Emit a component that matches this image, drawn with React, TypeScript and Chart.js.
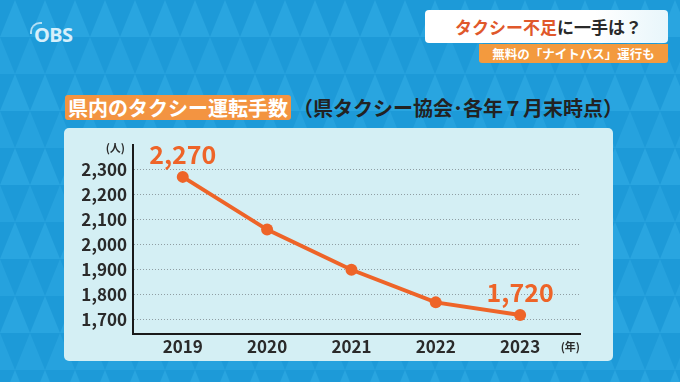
import React, { useEffect, useRef } from "react";
import { Chart, registerables } from "chart.js";

Chart.register(...registerables);

const years: number[] = [2019, 2020, 2021, 2022, 2023];
const drivers: number[] = [2270, 2060, 1900, 1770, 1720];
const yTicks: number[] = [1700, 1800, 1900, 2000, 2100, 2200, 2300];
const labeledYears: number[] = [2019, 2023];

const FONT = '"Noto Sans CJK JP", "Noto Sans", sans-serif';
const ORANGE = "#EE6428";
const DARK = "#2a2a2a";

const bgSvg = encodeURIComponent(
  `<svg xmlns="http://www.w3.org/2000/svg" width="60" height="74">
  <rect width="60" height="74" fill="#1d9ad8"/>
  <polygon points="0,37 15,0 30,37" fill="#29a5e0"/>
  <polygon points="30,37 45,0 60,37" fill="#29a5e0"/>
  <polygon points="15,74 30,37 45,74" fill="#26a2de"/>
  <polygon points="-15,74 0,37 15,74" fill="#26a2de"/>
  <polygon points="45,74 60,37 75,74" fill="#26a2de"/>
</svg>`
);

const valueLabelPlugin = {
  id: "valueLabels",
  afterDatasetsDraw(chart: any) {
    const ctx = chart.ctx;
    const meta = chart.getDatasetMeta(0);
    ctx.save();
    ctx.fillStyle = ORANGE;
    ctx.font = `bold 25px ${FONT}`;
    ctx.textAlign = "center";
    ctx.textBaseline = "middle";
    years.forEach((yr, i) => {
      if (!labeledYears.includes(yr)) return;
      const pt = meta.data[i];
      ctx.fillText(drivers[i].toLocaleString("en-US"), pt.x, pt.y - 22);
    });
    ctx.restore();
  },
};

const unitPlugin = {
  id: "units",
  afterDraw(chart: any) {
    const ctx = chart.ctx;
    const a = chart.chartArea;
    ctx.save();
    ctx.fillStyle = DARK;
    ctx.font = `bold 11px ${FONT}`;
    ctx.textAlign = "right";
    ctx.textBaseline = "middle";
    ctx.fillText("(人)", a.left - 8, a.top + 3);
    ctx.fillText("(年)", a.right, a.bottom + 13);
    ctx.restore();
  },
};

function ChartPanel() {
  const ref = useRef<HTMLCanvasElement>(null);
  useEffect(() => {
    if (!ref.current) return;
    const chart = new Chart(ref.current, {
      type: "line",
      data: {
        datasets: [
          {
            data: years.map((y, i) => ({ x: y, y: drivers[i] })),
            borderColor: ORANGE,
            backgroundColor: ORANGE,
            borderWidth: 4,
            pointRadius: 6,
            pointHoverRadius: 6,
            pointBorderWidth: 0,
            tension: 0,
          },
        ],
      },
      options: {
        animation: false,
        responsive: false,
        layout: { padding: { top: 17, right: 33, left: 0, bottom: 0 } },
        plugins: { legend: { display: false }, tooltip: { enabled: false } },
        scales: {
          x: {
            type: "linear",
            min: 2018.41,
            max: 2023.71,
            afterBuildTicks: (s: any) => {
              s.ticks = years.map((v) => ({ value: v }));
            },
            afterFit: (s: any) => {
              s.height = 27;
            },
            ticks: {
              color: DARK,
              font: { family: FONT, size: 17, weight: "bold" },
              padding: 2,
              callback: (v: any) => String(v),
              maxRotation: 0,
              autoSkip: false,
            },
            grid: { display: false, drawTicks: false },
            border: { display: true, color: "#1a1a1a", width: 2 },
          },
          y: {
            type: "linear",
            min: 1644,
            max: 2397,
            afterBuildTicks: (s: any) => {
              s.ticks = yTicks.map((v) => ({ value: v }));
            },
            afterFit: (s: any) => {
              s.width = 69;
            },
            ticks: {
              color: DARK,
              font: { family: FONT, size: 17, weight: "bold" },
              padding: 6,
              callback: (v: any) => Number(v).toLocaleString("en-US"),
              autoSkip: false,
            },
            grid: {
              color: "#8f9ea3",
              lineWidth: 1,
              drawTicks: false,
            },
            border: { display: true, color: "#1a1a1a", width: 2, dash: [1, 2] },
          },
        },
      },
      plugins: [valueLabelPlugin, unitPlugin],
    } as any);
    return () => chart.destroy();
  }, []);
  return <canvas ref={ref} width={549} height={233} style={{ display: "block" }} />;
}

export default function App() {
  return (
    <div
      style={{
        position: "relative",
        width: 680,
        height: 382,
        overflow: "hidden",
        backgroundImage: `url("data:image/svg+xml,${bgSvg}")`,
        backgroundColor: "#1d9ad8",
        fontFamily: FONT,
      }}
    >
      <style>{`body{margin:0}`}</style>
      {/* OBS logo */}
      <div
        style={{
          position: "absolute",
          left: 34,
          top: 22,
          color: "#d6effb",
          fontFamily: '"Noto Sans", sans-serif',
          fontWeight: 700,
          fontSize: 20,
          lineHeight: "26px",
          letterSpacing: -0.5,
        }}
      >
        OBS
      </div>
      <div
        style={{
          position: "absolute",
          left: 30,
          top: 22,
          width: 10,
          height: 10,
          borderTop: "2px solid #d6effb",
          borderLeft: "2px solid #d6effb",
          borderRadius: "10px 0 0 0",
          opacity: 0.8,
        }}
      />
      {/* top-right caption */}
      <div
        style={{
          position: "absolute",
          left: 425,
          top: 10,
          width: 243,
          height: 33,
          background: "linear-gradient(90deg,#ffffff 0%,#ffffff 70%,#e8f6fb 100%)",
          borderRadius: 4,
          display: "flex",
          alignItems: "center",
          justifyContent: "flex-end",
          paddingRight: 26,
          boxSizing: "border-box",
          fontWeight: 700,
          fontSize: 17,
          color: DARK,
          whiteSpace: "nowrap",
        }}
      >
        <span style={{ color: "#E0582B" }}>タクシー不足</span>に一手は？
      </div>
      <div
        style={{
          position: "absolute",
          left: 479,
          top: 44,
          width: 189,
          height: 19,
          background: "#F39A3E",
          borderRadius: "0 0 3px 3px",
          color: "#fff",
          fontWeight: 700,
          fontSize: 12.5,
          lineHeight: "19px",
          textAlign: "center",
          whiteSpace: "nowrap",
        }}
      >
        無料の「ナイトバス」運行も
      </div>
      {/* title */}
      <div
        style={{
          position: "absolute",
          left: 65,
          top: 95,
          display: "flex",
          alignItems: "center",
          whiteSpace: "nowrap",
          fontWeight: 700,
          fontSize: 20,
        }}
      >
        <span
          style={{
            background: "#F39441",
            color: "#fff",
            borderRadius: 3,
            padding: "0 3px",
            lineHeight: "25px",
            height: 25,
          }}
        >
          県内のタクシー運転手数
        </span>
        <span style={{ color: "#222", marginLeft: 2, lineHeight: "25px" }}>
          （県タクシー協会･各年７月末時点）
        </span>
      </div>
      {/* panel */}
      <div
        style={{
          position: "absolute",
          left: 64,
          top: 128,
          width: 549,
          height: 233,
          background: "#d4eff4",
          borderRadius: 5,
          overflow: "hidden",
        }}
      >
        <ChartPanel />
      </div>
    </div>
  );
}
